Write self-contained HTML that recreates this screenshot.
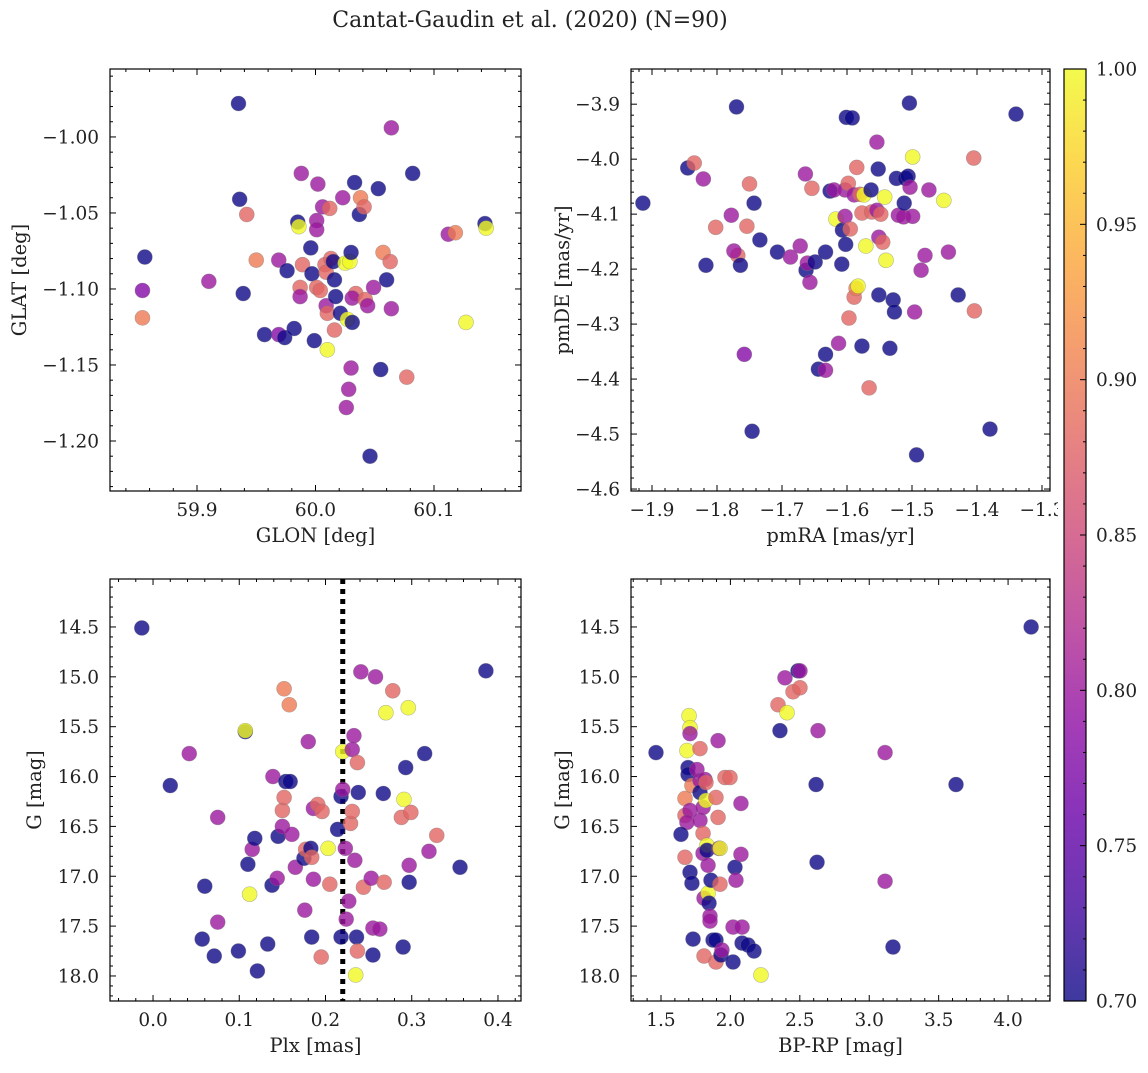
<!DOCTYPE html>
<html><head><meta charset="utf-8"><style>
body{margin:0;background:#fff}
svg text{font-family:"DejaVu Serif","Liberation Serif",serif;fill:#222}
</style></head><body>
<svg id="fig" width="1148" height="1068" xmlns="http://www.w3.org/2000/svg">
<text x="530" y="27" font-size="22" text-anchor="middle">Cantat-Gaudin et al. (2020) (N=90)</text>
</svg>
<script>
// ---- data ----
const p1X=[59.935,59.936,59.942,59.856,59.854,59.854,59.910,59.939,59.950,59.969,59.976,59.957,59.969,59.974,59.982,59.985,59.986,59.988,59.987,59.987,59.989,59.996,59.997,59.999,60.002,60.001,60.001,60.001,60.004,60.006,60.008,60.009,60.009,60.010,60.010,60.012,60.013,60.015,60.016,60.017,60.016,60.021,60.023,60.025,60.027,60.026,60.028,60.030,60.029,60.030,60.031,60.033,60.034,60.031,60.037,60.038,60.041,60.042,60.044,60.049,60.046,60.053,60.055,60.057,60.060,60.063,60.064,60.064,60.077,60.082,60.112,60.118,60.127,60.143,60.144];
const p1Y=[-0.978,-1.041,-1.051,-1.079,-1.101,-1.119,-1.095,-1.103,-1.081,-1.081,-1.088,-1.130,-1.130,-1.132,-1.126,-1.056,-1.059,-1.024,-1.099,-1.105,-1.084,-1.073,-1.090,-1.134,-1.031,-1.055,-1.061,-1.099,-1.101,-1.046,-1.084,-1.089,-1.111,-1.116,-1.140,-1.047,-1.080,-1.082,-1.094,-1.105,-1.127,-1.116,-1.040,-1.083,-1.120,-1.178,-1.166,-1.152,-1.082,-1.076,-1.122,-1.030,-1.103,-1.106,-1.051,-1.040,-1.046,-1.107,-1.111,-1.099,-1.210,-1.034,-1.153,-1.076,-1.094,-1.082,-1.113,-0.994,-1.158,-1.024,-1.064,-1.063,-1.122,-1.057,-1.060];
const p1C=[0.70,0.70,0.88,0.70,0.78,0.90,0.80,0.70,0.90,0.80,0.70,0.70,0.78,0.70,0.70,0.70,1.0,0.80,0.88,0.80,0.88,0.70,0.70,0.70,0.80,0.80,0.80,0.88,0.88,0.80,0.88,0.88,0.80,0.88,1.0,0.88,0.88,0.70,0.70,0.70,0.88,0.70,0.80,1.0,1.0,0.80,0.80,0.80,1.0,0.70,0.70,0.70,0.88,0.80,0.70,0.90,0.88,0.88,0.80,0.80,0.70,0.70,0.70,0.90,0.70,0.88,0.80,0.80,0.88,0.70,0.80,0.90,1.0,0.70,1.0];

const p2X=[-1.914,-1.845,-1.835,-1.821,-1.817,-1.802,-1.770,-1.778,-1.768,-1.774,-1.764,-1.758,-1.750,-1.746,-1.754,-1.743,-1.734,-1.707,-1.687,-1.672,-1.664,-1.663,-1.661,-1.657,-1.654,-1.649,-1.644,-1.633,-1.633,-1.633,-1.626,-1.620,-1.617,-1.613,-1.608,-1.607,-1.603,-1.603,-1.602,-1.601,-1.598,-1.597,-1.595,-1.592,-1.589,-1.586,-1.589,-1.585,-1.583,-1.580,-1.577,-1.577,-1.574,-1.571,-1.566,-1.563,-1.562,-1.554,-1.554,-1.552,-1.551,-1.548,-1.545,-1.551,-1.542,-1.540,-1.534,-1.529,-1.527,-1.524,-1.521,-1.513,-1.512,-1.510,-1.506,-1.504,-1.503,-1.499,-1.499,-1.496,-1.493,-1.486,-1.480,-1.474,-1.451,-1.444,-1.429,-1.405,-1.404,-1.380,-1.340];
const p2Y=[-4.080,-4.016,-4.007,-4.036,-4.193,-4.124,-3.905,-4.102,-4.175,-4.167,-4.193,-4.355,-4.045,-4.495,-4.122,-4.080,-4.147,-4.169,-4.178,-4.158,-4.027,-4.202,-4.189,-4.224,-4.053,-4.187,-4.382,-4.355,-4.384,-4.169,-4.058,-4.056,-4.109,-4.335,-4.191,-4.129,-4.104,-4.056,-4.155,-3.924,-4.044,-4.289,-4.127,-3.925,-4.251,-4.235,-4.065,-4.015,-4.231,-4.064,-4.340,-4.098,-4.065,-4.158,-4.416,-4.056,-4.096,-3.969,-4.093,-4.018,-4.142,-4.100,-4.151,-4.247,-4.069,-4.184,-4.344,-4.256,-4.278,-4.035,-4.102,-4.105,-4.080,-4.035,-4.031,-3.898,-4.051,-3.996,-4.104,-4.278,-4.538,-4.202,-4.175,-4.056,-4.075,-4.169,-4.247,-3.998,-4.276,-4.491,-3.918];
const p2C=[0.70,0.70,0.88,0.80,0.70,0.88,0.70,0.80,0.88,0.80,0.70,0.78,0.88,0.70,0.88,0.70,0.70,0.70,0.80,0.80,0.80,0.70,0.80,0.80,0.88,0.70,0.70,0.70,0.80,0.70,0.70,0.80,1.0,0.80,0.70,0.70,0.80,0.80,0.70,0.70,0.88,0.88,0.88,0.70,0.88,0.90,0.80,0.88,1.0,0.88,0.70,0.88,1.0,1.0,0.88,0.70,0.88,0.80,0.80,0.70,0.80,0.88,0.88,0.70,1.0,1.0,0.70,0.70,0.70,0.70,0.80,0.80,0.70,0.70,0.70,0.70,0.80,1.0,0.80,0.80,0.70,0.80,0.80,0.80,1.0,0.80,0.70,0.88,0.88,0.70,0.70];

const p3X=[-0.013,0.020,0.042,0.060,0.057,0.075,0.075,0.071,0.099,0.107,0.107,0.110,0.112,0.115,0.118,0.121,0.133,0.138,0.139,0.144,0.145,0.150,0.150,0.152,0.152,0.154,0.158,0.159,0.161,0.165,0.175,0.177,0.176,0.183,0.184,0.180,0.186,0.184,0.186,0.191,0.195,0.196,0.203,0.205,0.214,0.218,0.218,0.220,0.220,0.223,0.224,0.227,0.229,0.231,0.231,0.233,0.234,0.236,0.237,0.235,0.238,0.241,0.237,0.244,0.253,0.255,0.255,0.258,0.263,0.267,0.268,0.270,0.278,0.288,0.290,0.291,0.296,0.293,0.297,0.297,0.299,0.315,0.320,0.329,0.356,0.386];
const p3Y=[14.51,16.09,15.77,17.10,17.63,16.41,17.46,17.80,17.75,15.55,15.54,16.88,17.18,16.73,16.62,17.95,17.68,17.09,16.00,17.02,16.60,16.50,16.34,15.12,16.21,16.05,15.28,16.05,16.58,16.91,16.82,16.73,17.34,16.72,17.61,15.65,17.03,16.81,16.32,16.28,17.81,16.35,16.72,17.08,16.53,16.20,17.61,15.75,16.13,16.72,17.43,17.25,16.47,15.73,16.35,15.59,16.84,17.61,17.75,17.99,16.16,14.95,15.86,17.11,17.02,17.79,17.52,15.00,17.53,16.17,17.06,15.36,15.14,16.41,17.71,16.23,15.31,15.91,16.89,17.06,16.36,15.77,16.75,16.59,16.91,14.94];
const p3C=[0.70,0.70,0.80,0.70,0.70,0.80,0.80,0.70,0.70,0.70,1.0,0.70,1.0,0.80,0.70,0.70,0.70,0.70,0.80,0.80,0.70,0.80,0.88,0.90,0.88,0.70,0.90,0.70,0.80,0.80,0.70,0.88,0.80,0.70,0.70,0.80,0.80,0.88,0.80,0.88,0.88,0.88,1.0,0.88,0.70,0.70,0.70,1.0,0.80,0.80,0.80,0.80,0.88,0.80,0.88,0.80,0.80,0.70,0.88,1.0,0.70,0.80,0.88,0.88,0.80,0.70,0.80,0.80,0.80,0.70,0.88,1.0,0.88,0.88,0.70,1.0,1.0,0.70,0.80,0.70,0.88,0.70,0.80,0.88,0.70,0.70];

const p4X=[1.464,1.702,1.709,1.687,1.709,1.695,1.695,1.673,1.673,1.709,1.723,1.673,1.687,1.709,1.723,1.731,1.759,1.781,1.781,1.781,1.781,1.803,1.803,1.803,1.810,1.810,1.817,1.824,1.824,1.831,1.831,1.839,1.839,1.846,1.853,1.853,1.860,1.875,1.896,1.896,1.896,1.911,1.911,1.918,1.925,1.925,1.932,1.939,1.961,1.997,2.019,2.019,2.033,2.040,2.076,2.076,2.084,2.084,2.127,2.170,2.220,2.357,2.343,2.393,2.408,2.451,2.487,2.501,2.501,2.631,2.617,2.624,3.114,3.114,3.171,3.625,4.166,1.644];
const p4Y=[15.76,15.39,15.51,15.74,15.57,15.91,15.98,16.22,16.39,16.34,16.09,16.81,16.46,16.96,17.07,17.63,15.93,15.72,16.04,16.16,16.44,16.57,16.31,16.77,17.22,17.80,16.03,16.06,16.24,16.69,16.74,16.89,17.17,17.27,17.40,17.45,17.04,17.64,17.64,17.86,16.21,16.41,15.64,16.72,17.08,16.72,17.79,17.74,16.01,16.01,17.51,17.86,16.91,17.04,16.27,16.78,17.51,17.67,17.69,17.75,17.99,15.54,15.28,15.01,15.36,15.15,14.94,14.94,15.11,15.54,16.08,16.86,17.05,15.76,17.71,16.08,14.50,16.58];
const p4C=[0.70,1.0,1.0,1.0,0.80,0.70,0.70,0.90,0.88,0.80,0.90,0.88,0.80,0.70,0.70,0.70,0.80,0.88,0.80,0.70,0.80,0.88,0.80,0.80,0.80,0.88,0.80,0.88,1.0,1.0,0.70,0.80,1.0,0.70,0.80,0.80,0.70,0.70,0.70,0.88,0.88,0.88,0.80,0.80,0.88,1.0,0.70,0.80,0.88,0.88,0.80,0.70,0.70,0.80,0.80,0.80,0.80,0.70,0.70,0.70,1.0,0.70,0.88,0.80,1.0,0.88,0.70,0.80,0.88,0.80,0.70,0.70,0.80,0.80,0.70,0.70,0.70,0.70];

const plxLine=0.22;
const cbTicks=[0.70,0.75,0.80,0.85,0.90,0.95,1.00];

// ---- helpers ----
const NS="http://www.w3.org/2000/svg";
const svg=document.getElementById('fig');
function el(t,a,p){const e=document.createElementNS(NS,t);for(const k in a)e.setAttribute(k,a[k]);(p||svg).appendChild(e);return e;}
const stops=['#0d0887','#41049d','#6a00a8','#8f0da4','#b12a90','#cc4778','#e16462','#f2844b','#fca636','#fcce25','#f0f921'];
function hex(h){return [1,3,5].map(i=>parseInt(h.substr(i,2),16));}
function plasma(t){t=Math.max(0,Math.min(1,t));const f=t*10,i=Math.min(9,Math.floor(f)),r=f-i;const a=hex(stops[i]),b=hex(stops[i+1]);return 'rgb('+a.map((v,k)=>Math.round(v+(b[k]-v)*r)).join(',')+')';}
const cnorm=v=>(v-0.7)/0.3;
function fmt(v,d){return (v<0?'\u2212':'')+Math.abs(v).toFixed(d);}
const TF=18.5, LF=19.5;

function panel(o){
  const g=el('g',{});
  
  
  const sx=v=>o.x0+(v-o.xmin)/(o.xmax-o.xmin)*(o.x1-o.x0);
  const sy=v=>o.yinv? o.y0+(v-o.ymin)/(o.ymax-o.ymin)*(o.y1-o.y0) : o.y1-(v-o.ymin)/(o.ymax-o.ymin)*(o.y1-o.y0);
  const clip='c'+o.name;
  const cp=el('clipPath',{id:clip},g);el('rect',{x:o.x0,y:o.y0,width:o.x1-o.x0,height:o.y1-o.y0},cp);
  const pts=el('g',{'clip-path':'url(#'+clip+')'},g);
  
  
  if(o.vline!==undefined){
    const ln=el('line',{x1:sx(o.vline),x2:sx(o.vline),y1:o.y0,y2:o.y1,stroke:'#000','stroke-width':5,'stroke-dasharray':'5,5'},pts);
    
    
  }
  o.X.forEach((xv,i)=>{
    const c=el('circle',{cx:sx(xv),cy:sy(o.Y[i]),r:7.5,fill:plasma(cnorm(o.C[i])),'fill-opacity':0.8,stroke:'#777','stroke-opacity':0.5,'stroke-width':0.6},pts);
    
    
  });
  el('rect',{x:o.x0,y:o.y0,width:o.x1-o.x0,height:o.y1-o.y0,fill:'none',stroke:'#000','stroke-width':1.2},g);
  const tk=el('g',{stroke:'#000','stroke-width':1},g);
  const eps=1e-6;
  for(let v=Math.ceil(o.xmin/o.xminor-eps)*o.xminor;v<=o.xmax+eps;v+=o.xminor){
    const X=sx(v);const maj=Math.abs(v/o.xmajor-Math.round(v/o.xmajor))<1e-4;const L=maj?6:3;
    el('line',{x1:X,x2:X,y1:o.y1,y2:o.y1-L},tk);el('line',{x1:X,x2:X,y1:o.y0,y2:o.y0+L},tk);
    if(maj){const t=el('text',{x:X,y:o.y1+25,'font-size':TF,'text-anchor':'middle'},g);t.textContent=fmt(v,o.xd);
      }
  }
  for(let v=Math.ceil(o.ymin/o.yminor-eps)*o.yminor;v<=o.ymax+eps;v+=o.yminor){
    const Y=sy(v);const maj=Math.abs(v/o.ymajor-Math.round(v/o.ymajor))<1e-4;const L=maj?6:3;
    el('line',{x1:o.x0,x2:o.x0+L,y1:Y,y2:Y},tk);el('line',{x1:o.x1,x2:o.x1-L,y1:Y,y2:Y},tk);
    if(maj){const t=el('text',{x:o.x0-11,y:Y+6.5,'font-size':TF,'text-anchor':'end'},g);t.textContent=fmt(v,o.yd);
      }
  }
  const xl=el('text',{x:(o.x0+o.x1)/2,y:o.y1+51,'font-size':LF,'text-anchor':'middle'},g);xl.textContent=o.xlab;
  
  const yc=(o.y0+o.y1)/2;
  const yl=el('text',{x:o.ylx,y:yc,'font-size':LF,'text-anchor':'middle',transform:'rotate(-90 '+o.ylx+' '+yc+')'},g);yl.textContent=o.ylab;
  
}

panel({name:'panel-glon-glat',x0:110,x1:521,y0:69,y1:491,xmin:59.8266,xmax:60.1734,ymin:-1.2329,ymax:-0.9553,xmajor:0.1,xminor:0.02,ymajor:0.05,yminor:0.01,xd:1,yd:2,X:p1X,Y:p1Y,C:p1C,xlab:'GLON [deg]',ylab:'GLAT [deg]',ylx:26});
panel({name:'panel-pm',x0:631,x1:1050,y0:69,y1:491,xmin:-1.9323,xmax:-1.2877,ymin:-4.6036,ymax:-3.836,xmajor:0.1,xminor:0.02,ymajor:0.1,yminor:0.02,xd:1,yd:1,X:p2X,Y:p2Y,C:p2C,xlab:'pmRA [mas/yr]',ylab:'pmDE [mas/yr]',ylx:569});
panel({name:'panel-plx-g',x0:110,x1:521,y0:579,y1:1001,xmin:-0.0499,xmax:0.4267,ymin:14.019,ymax:18.251,yinv:true,xmajor:0.1,xminor:0.02,ymajor:0.5,yminor:0.1,xd:1,yd:1,X:p3X,Y:p3Y,C:p3C,xlab:'Plx [mas]',ylab:'G [mag]',ylx:41,vline:plxLine});
panel({name:'panel-cmd',x0:631,x1:1050,y0:579,y1:1001,xmin:1.284,xmax:4.302,ymin:14.019,ymax:18.251,yinv:true,xmajor:0.5,xminor:0.1,ymajor:0.5,yminor:0.1,xd:1,yd:1,X:p4X,Y:p4Y,C:p4C,xlab:'BP-RP [mag]',ylab:'G [mag]',ylx:569});

// colorbar
const cb=el('g',{});


const defs=el('defs',{},cb);
const lg=el('linearGradient',{id:'cbg',x1:0,y1:1,x2:0,y2:0},defs);
stops.forEach((s,i)=>el('stop',{offset:i/10,'stop-color':s,'stop-opacity':0.8},lg));
el('rect',{x:1058,y:60,width:36,height:950,fill:'#fff'},cb);
el('rect',{x:1064,y:69,width:22,height:932,fill:'url(#cbg)',stroke:'#000','stroke-width':1.2},cb);
const cy=v=>1001-(v-0.7)/0.3*932;
for(let v=0.70;v<=1.0001;v+=0.01){const Y=cy(v);const maj=Math.abs(v*20-Math.round(v*20))<1e-4;
  el('line',{x1:1086,x2:1086-(maj?6:3),y1:Y,y2:Y,stroke:'#000'},cb);}
cbTicks.forEach(v=>{const t=el('text',{x:1096,y:cy(v)+6.5,'font-size':TF},cb);t.textContent=v.toFixed(2);
  });
</script>
</body></html>
